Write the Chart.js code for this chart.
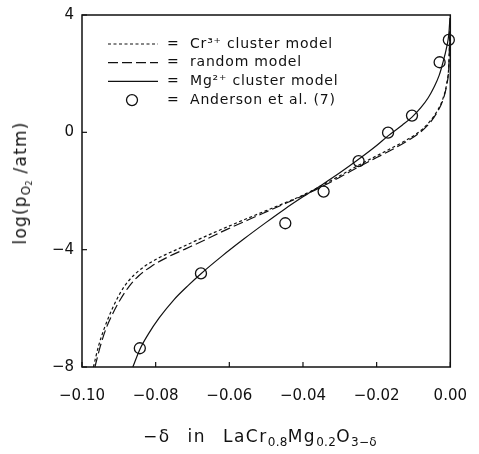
<!DOCTYPE html>
<html lang="en">
<head>
  <meta charset="UTF-8">
  <title>log pO2 vs delta</title>
  <script src="https://cdn.jsdelivr.net/npm/chart.js"></script>
  <style>
    body { margin: 0; background: #fff; }
    #wrap { position: relative; width: 479px; height: 454px; }
    canvas { position: absolute; left: 0; top: 0; }
    .title { position: absolute; font-family: "DejaVu Sans", sans-serif; color: #111; white-space: nowrap; }
    .title sub { font-size: 12px; vertical-align: -4px; letter-spacing: 0.3px; }
    .title sub sub { font-size: 8px; vertical-align: -2px; }
    #xTitle { left: 143px; top: 426px; font-size: 17px; letter-spacing: 1.5px; word-spacing: 10px; }
    #yTitle { left: 22px; top: 183px; font-size: 17px; letter-spacing: 1.2px; transform: translate(-50%, -50%) rotate(-90deg); }
  </style>
</head>
<body>
  <div id="wrap">
    <canvas id="chart" width="479" height="454"></canvas>
    <div id="xTitle" class="title">−δ in LaCr<sub>0.8</sub>Mg<sub>0.2</sub>O<sub>3−δ</sub></div>
    <div id="yTitle" class="title">log(p<sub>O<sub>2</sub></sub> /atm)</div>
  </div>

  <script>
    // tick labels
    const xTicks = [-0.10, -0.08, -0.06, -0.04, -0.02, 0.00];
    const yTicks = [4, 0, -4, -8];

    // Anderson et al. (7) measurements
    const andersonX = [-0.0843, -0.0677, -0.0448, -0.0344, -0.0249, -0.0169, -0.0104, -0.0029, -0.0004];
    const andersonY = [-7.36, -4.81, -3.10, -2.02, -0.98, -0.01, 0.57, 2.39, 3.15];

    // Mg2+ cluster model (solid)
    const mgX = [-0.0862, -0.0843, -0.0820, -0.0790, -0.0750, -0.0710, -0.0677, -0.0620, -0.0560, -0.0500, -0.0450,
                 -0.0400, -0.0350, -0.0300, -0.0249, -0.0200, -0.0169, -0.0130, -0.0104, -0.0080, -0.0060, -0.0045,
                 -0.0030, -0.0020, -0.0010, -0.0004, -0.0001];
    const mgY = [-8.00, -7.40, -6.88, -6.32, -5.70, -5.20, -4.82, -4.22, -3.63, -3.07, -2.62,
                 -2.20, -1.80, -1.38, -0.92, -0.45, -0.12, 0.25, 0.52, 0.84, 1.18, 1.52,
                 1.95, 2.38, 2.90, 3.35, 3.90];

    // Cr3+ cluster model (short dash)
    const crX = [-0.0969, -0.0955, -0.0940, -0.0925, -0.0905, -0.0885, -0.0860, -0.0830, -0.0790, -0.0740, -0.0685,
                 -0.0620, -0.0560, -0.0500, -0.0450, -0.0400, -0.0350, -0.0300, -0.0249, -0.0200, -0.0169, -0.0120,
                 -0.0080, -0.0055, -0.0035, -0.0020, -0.0010, -0.0004, -0.0001];
    const crY = [-8.00, -7.28, -6.70, -6.22, -5.68, -5.25, -4.88, -4.57, -4.27, -3.98, -3.66,
                 -3.30, -2.98, -2.67, -2.41, -2.14, -1.82, -1.48, -1.12, -0.80, -0.60, -0.27,
                 0.06, 0.38, 0.74, 1.15, 1.65, 2.30, 3.50];

    // random model (long dash)
    const rndX = [-0.0965, -0.0950, -0.0935, -0.0918, -0.0895, -0.0872, -0.0845, -0.0812, -0.0770, -0.0720, -0.0665,
                  -0.0605, -0.0548, -0.0492, -0.0445, -0.0400, -0.0350, -0.0300, -0.0249, -0.0200, -0.0169, -0.0120,
                  -0.0080, -0.0055, -0.0035, -0.0020, -0.0010, -0.0004, -0.0001];
    const rndY = [-8.00, -7.28, -6.70, -6.22, -5.68, -5.25, -4.88, -4.57, -4.27, -3.98, -3.66,
                  -3.30, -2.98, -2.67, -2.41, -2.16, -1.86, -1.53, -1.18, -0.86, -0.66, -0.32,
                  0.02, 0.33, 0.70, 1.10, 1.60, 2.25, 3.50];

    const ink = '#111';
    const pts = (xs, ys) => xs.map((x, i) => ({ x: x, y: ys[i] }));

    const legendItems = [
      { text: 'Cr³⁺ cluster model', dash: [3, 2.5] },
      { text: 'random model', dash: [10, 4] },
      { text: 'Mg²⁺ cluster model', dash: [] },
      { text: 'Anderson et al. (7)', circle: true }
    ];

    // frame, inward ticks and the legend drawn onto the canvas
    const framePlugin = {
      id: 'frame',
      afterDraw(chart) {
        const ctx = chart.ctx;
        const a = chart.chartArea;
        const sx = chart.scales.x, sy = chart.scales.y;
        ctx.save();
        ctx.strokeStyle = ink;
        ctx.lineWidth = 1.5;
        ctx.strokeRect(a.left, a.top, a.right - a.left, a.bottom - a.top);
        ctx.lineWidth = 1.2;
        xTicks.forEach(v => {
          const px = sx.getPixelForValue(v);
          ctx.beginPath(); ctx.moveTo(px, a.bottom); ctx.lineTo(px, a.bottom - 5); ctx.stroke();
        });
        yTicks.forEach(v => {
          const py = sy.getPixelForValue(v);
          ctx.beginPath(); ctx.moveTo(a.left, py); ctx.lineTo(a.left + 5, py); ctx.stroke();
        });

        ctx.font = '14px "DejaVu Sans"';
        ctx.letterSpacing = '0.8px';
        ctx.fillStyle = ink;
        ctx.textBaseline = 'middle';
        legendItems.forEach((it, i) => {
          const yy = 44 + i * 18.7;
          if (it.circle) {
            ctx.setLineDash([]);
            ctx.lineWidth = 1.3;
            ctx.beginPath(); ctx.arc(132, yy, 5.5, 0, Math.PI * 2); ctx.stroke();
          } else {
            ctx.setLineDash(it.dash);
            ctx.lineWidth = 1.2;
            ctx.beginPath(); ctx.moveTo(108, yy); ctx.lineTo(158, yy); ctx.stroke();
          }
          ctx.setLineDash([]);
          ctx.fillText('=', 167, yy);
          ctx.fillText(it.text, 190, yy);
        });
        ctx.restore();
      }
    };

    const curve = (data, dash, label) => ({
      label: label,
      data: data,
      showLine: true,
      borderColor: ink,
      borderWidth: 1.2,
      borderDash: dash,
      pointRadius: 0,
      cubicInterpolationMode: 'monotone',
      fill: false
    });

    new Chart(document.getElementById('chart'), {
      type: 'scatter',
      data: {
        datasets: [
          curve(pts(crX, crY), [3, 2.5], 'Cr3+ cluster model'),
          curve(pts(rndX, rndY), [10, 4], 'random model'),
          curve(pts(mgX, mgY), [], 'Mg2+ cluster model'),
          {
            label: 'Anderson et al. (7)',
            data: pts(andersonX, andersonY),
            showLine: false,
            pointRadius: 5.5,
            pointBackgroundColor: 'rgba(255,255,255,0)',
            pointBorderColor: ink,
            pointBorderWidth: 1.3
          }
        ]
      },
      options: {
        responsive: false,
        animation: false,
        clip: false,
        layout: { padding: { top: 15, right: 21, left: 0, bottom: 0 } },
        plugins: { legend: { display: false }, tooltip: { enabled: false } },
        scales: {
          x: {
            type: 'linear',
            min: -0.10,
            max: 0.00,
            afterBuildTicks: s => { s.ticks = xTicks.map(v => ({ value: v })); },
            afterFit: s => { s.height = 87; },
            grid: { display: false },
            border: { display: false },
            ticks: {
              padding: 12,
              color: ink,
              font: { family: 'DejaVu Sans', size: 15 },
              callback: v => Math.abs(v) < 1e-9 ? '0.00' : v.toFixed(2).replace('-', '−')
            }
          },
          y: {
            type: 'linear',
            min: -8,
            max: 4,
            afterBuildTicks: s => { s.ticks = yTicks.map(v => ({ value: v })); },
            afterFit: s => { s.width = 82; },
            grid: { display: false },
            border: { display: false },
            ticks: {
              padding: 0,
              color: ink,
              font: { family: 'DejaVu Sans', size: 15 },
              callback: v => String(v).replace('-', '−')
            }
          }
        }
      },
      plugins: [framePlugin]
    });
  </script>
</body>
</html>
